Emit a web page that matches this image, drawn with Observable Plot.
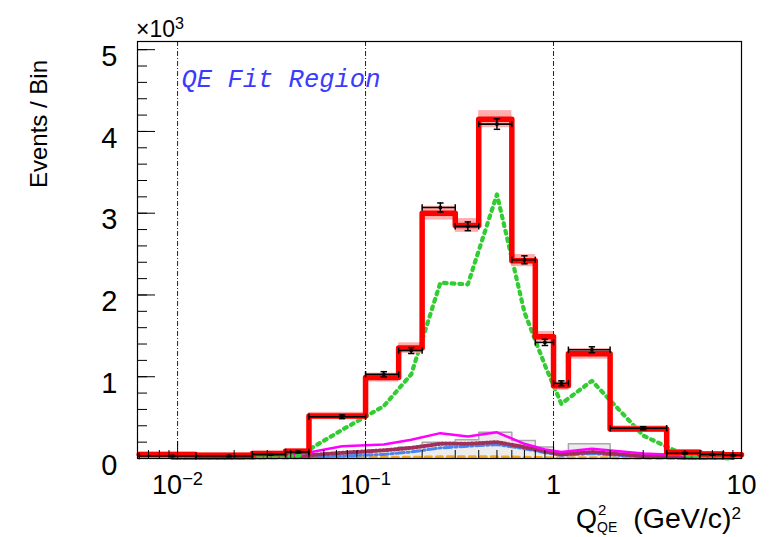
<!DOCTYPE html>
<html><head><meta charset="utf-8">
<script src="https://cdn.jsdelivr.net/npm/d3@7"></script>
<script src="https://cdn.jsdelivr.net/npm/@observablehq/plot@0.6"></script>
<style>body{margin:0;background:#fff} svg{display:block}</style>
</head><body><div id="chart"></div>
<script>
// Q2_QE bin edges (GeV/c)^2
const binEdges = [0.00625, 0.0125, 0.025, 0.0375, 0.05, 0.1, 0.15, 0.2, 0.3, 0.4, 0.6, 0.8, 1.0, 1.2, 2.0, 4.0, 6.0, 8.0, 10.0];
// values in units of 10^3 events / bin
const mcTotal    = [0.05, 0.04, 0.06, 0.09, 0.52, 0.99, 1.35, 3.00, 2.85, 4.15, 2.42, 1.49, 0.89, 1.28, 0.36, 0.077, 0.055, 0.045];
const mcBandErr  = [0.004, 0.004, 0.005, 0.006, 0.02, 0.03, 0.04, 0.06, 0.06, 0.08, 0.05, 0.04, 0.03, 0.04, 0.015, 0.005, 0.004, 0.003];
const dataValues = [0.03, 0.03, 0.05, 0.08, 0.51, 1.03, 1.32, 3.07, 2.84, 4.09, 2.43, 1.42, 0.92, 1.33, 0.37, 0.065, 0.05, 0.04];
const dataErr    = [0.006, 0.006, 0.007, 0.009, 0.023, 0.032, 0.036, 0.055, 0.053, 0.064, 0.049, 0.038, 0.030, 0.036, 0.019, 0.008, 0.007, 0.006];
const qeSignal   = [0.01, 0.01, 0.02, 0.03, 0.35, 0.64, 1.03, 2.15, 2.13, 3.23, 1.79, 1.14, 0.67, 0.95, 0.28, 0.04, 0.01, 0.0];
const bkgTotal   = [0.015, 0.02, 0.03, 0.05, 0.15, 0.17, 0.23, 0.31, 0.27, 0.32, 0.18, 0.11, 0.08, 0.12, 0.06, 0.04, 0.03, 0.02];
const bkgGray    = [0.005, 0.005, 0.01, 0.02, 0.06, 0.10, 0.14, 0.20, 0.23, 0.32, 0.22, 0.14, 0.07, 0.18, 0.04, 0.01, 0.005, 0.003];
const bkgMaroon  = [0.01, 0.01, 0.02, 0.03, 0.07, 0.10, 0.13, 0.18, 0.18, 0.20, 0.14, 0.09, 0.05, 0.08, 0.03, 0.01, 0.01, 0.005];
const bkgBlue    = [0.005, 0.005, 0.01, 0.015, 0.03, 0.05, 0.08, 0.13, 0.15, 0.17, 0.12, 0.07, 0.04, 0.06, 0.02, 0.01, 0.005, 0.003];
const bkgOrange  = [0.002, 0.003, 0.005, 0.008, 0.015, 0.015, 0.015, 0.02, 0.02, 0.02, 0.015, 0.01, 0.008, 0.01, 0.005, 0.002, 0.001, 0.001];
const fitBoundaries = [0.01, 0.1, 1];
const xTickValues = [0.01, 0.1, 1, 10];
const xTickLabels = ["10^\u22122", "10^\u22121", "1", "10"];
const yTickValues = [0, 1, 2, 3, 4, 5];
const fitLabel = ["QE Fit Region"];

const n = mcTotal.length;
const bins = mcTotal.map((m, i) => ({
  lo: binEdges[i], hi: binEdges[i + 1], center: (binEdges[i] + binEdges[i + 1]) / 2,
  mc: m, mcLo: m - mcBandErr[i], mcHi: m + mcBandErr[i],
  data: dataValues[i], dLo: dataValues[i] - dataErr[i], dHi: dataValues[i] + dataErr[i],
  qe: qeSignal[i], bkg: bkgTotal[i], maroon: bkgMaroon[i], blue: bkgBlue[i], orange: bkgOrange[i]
}));
const steps = vals => vals.map((v, i) => ({x: binEdges[i], y: v})).concat([{x: binEdges[n], y: vals[n - 1]}]);

const xMinor = [];
for (const dec of [0.001, 0.01, 0.1, 1]) for (let k = 2; k <= 9; k++) { const v = k * dec; if (v > 0.00612 && v < 10) xMinor.push(v); }
const yMinor = d3.range(0, 5.01, 0.2).map(v => +v.toFixed(1));

const vBar = {draw(ctx, size) { const r = Math.sqrt(size / Math.PI); ctx.moveTo(0, -r); ctx.lineTo(0, r); }};
const hBar = {draw(ctx, size) { const r = Math.sqrt(size / Math.PI); ctx.moveTo(-r, 0); ctx.lineTo(r, 0); }};

const W = 777, H = 537, mL = 137, mR = 36, mT = 41, mB = 79;
const fw = W - mL - mR, fh = H - mT - mB;

const plot = Plot.plot({
  width: W, height: H, marginLeft: mL, marginRight: mR, marginTop: mT, marginBottom: mB,
  style: {fontFamily: "Liberation Sans, Arial, sans-serif", background: "white", color: "black"},
  x: {type: "log", domain: [0.00612, 10]},
  y: {domain: [0, 5.1]},
  marks: [
    Plot.areaY(steps(bkgGray), {x: "x", y: "y", curve: "step-after", fill: "#ececec"}),
    Plot.line(steps(bkgGray), {x: "x", y: "y", curve: "step-after", stroke: "#a8a8a8", strokeWidth: 1.5}),
    Plot.line(bins, {x: "center", y: "orange", stroke: "#f5a623", strokeWidth: 3, strokeDasharray: "6,5"}),
    Plot.line(bins, {x: "center", y: "blue", stroke: "#4a86f0", strokeWidth: 3, strokeDasharray: "8,3,2,3"}),
    Plot.line(bins, {x: "center", y: "maroon", stroke: "#a0305a", strokeWidth: 4, strokeDasharray: "1.2,2.5"}),
    Plot.line(bins, {x: "center", y: "bkg", stroke: "#ff00ff", strokeWidth: 2.5}),
    Plot.ruleX(fitBoundaries, {stroke: "#222", strokeWidth: 1, strokeDasharray: "5,2,1,2"}),
    Plot.line(bins, {x: "center", y: "qe", stroke: "#33cc33", strokeWidth: 4.2, strokeDasharray: "2.8,5"}),
    Plot.rectY(bins, {x1: "lo", x2: "hi", y1: "mcLo", y2: "mcHi", fill: "#ff9f9f", fillOpacity: 0.85, insetTop: -2, insetBottom: -2}),
    Plot.line(steps(mcTotal), {x: "x", y: "y", curve: "step-after", stroke: "#ff0000", strokeWidth: 5.5}),
    Plot.link(bins, {x1: "lo", x2: "hi", y1: "data", y2: "data", stroke: "black", strokeWidth: 1.6}),
    Plot.dot(bins, {x: "lo", y: "data", symbol: vBar, r: 3.2, fill: "none", stroke: "black", strokeWidth: 1.5}),
    Plot.dot(bins, {x: "hi", y: "data", symbol: vBar, r: 3.2, fill: "none", stroke: "black", strokeWidth: 1.5}),
    Plot.ruleX(bins, {x: "center", y1: "dLo", y2: "dHi", stroke: "black", strokeWidth: 1.5}),
    Plot.dot(bins, {x: "center", y: "dLo", symbol: hBar, r: 3.2, fill: "none", stroke: "black", strokeWidth: 1.5}),
    Plot.dot(bins, {x: "center", y: "dHi", symbol: hBar, r: 3.2, fill: "none", stroke: "black", strokeWidth: 1.5}),
    Plot.dot(bins, {x: "center", y: "data", symbol: "square", r: 1.8, fill: "black", stroke: "none"}),
    Plot.text(fitLabel, {frameAnchor: "top-left", dx: 44, dy: 37, text: d => d, textAnchor: "start", lineAnchor: "middle",
      fontFamily: "Liberation Mono, Courier New, monospace", fontStyle: "italic", fontSize: 25.5, fill: "#3b3bff"}),
    // ticks (inside frame)
    Plot.tickY(yTickValues, {y: d => d, insetRight: fw - 18, stroke: "black"}),
    Plot.tickY(yMinor, {y: d => d, insetRight: fw - 10, stroke: "black"}),
    Plot.tickX(xTickValues, {x: d => d, insetTop: fh - 17, stroke: "black"}),
    Plot.tickX(xMinor, {x: d => d, insetTop: fh - 8, stroke: "black"}),
    Plot.axisY({ticks: yTickValues, tickSize: 0, tickPadding: 20, fontSize: 29, dy: 7, label: null, tickFormat: d => String(d)}),
    Plot.axisX({ticks: xTickValues, tickSize: 0, tickPadding: 16, fontSize: 27, label: null, tickFormat: d => xTickLabels[xTickValues.indexOf(d)]}),
    Plot.frame({stroke: "black", strokeWidth: 1.2})
  ]
});
document.getElementById("chart").appendChild(plot);
const svg = d3.select(plot);

// superscripts on x tick labels
svg.selectAll('g[aria-label="x-axis tick label"] text').each(function () {
  const t = d3.select(this); const s = t.text();
  if (s.includes("^")) {
    const [b, e] = s.split("^");
    t.text(null);
    t.append("tspan").text(b);
    t.append("tspan").attr("dy", "-0.5em").attr("font-size", "0.68em").text(e);
  }
});

const font = "Liberation Sans, Arial, sans-serif";
// x10^3 multiplier
const m = svg.append("text").attr("x", 136).attr("y", 37).attr("text-anchor", "start").attr("font-family", font).attr("font-size", 23).attr("fill", "black");
m.append("tspan").text("\u00d710");
m.append("tspan").attr("dy", "-0.5em").attr("font-size", "0.7em").text("3");

// y title
svg.append("text").attr("transform", "translate(47,60) rotate(-90)").attr("text-anchor", "end")
  .attr("font-family", font).attr("font-size", 24).attr("fill", "black").text("Events / Bin");

// x title
svg.append("text").attr("x", 576).attr("y", 528).attr("text-anchor", "start").attr("font-family", font).attr("font-size", 27).attr("fill", "black").text("Q");
svg.append("text").attr("x", 598).attr("y", 515).attr("text-anchor", "start").attr("font-family", font).attr("font-size", 15).attr("fill", "black").text("2");
svg.append("text").attr("x", 597).attr("y", 532).attr("text-anchor", "start").attr("font-family", font).attr("font-size", 14).attr("fill", "black").text("QE");
const xt = svg.append("text").attr("x", 741).attr("y", 528).attr("text-anchor", "end").attr("font-family", font).attr("font-size", 28.5).attr("fill", "black");
xt.append("tspan").text("(GeV/c)");
xt.append("tspan").attr("dy", "-0.5em").attr("font-size", "0.6em").text("2");
</script>
</body></html>
